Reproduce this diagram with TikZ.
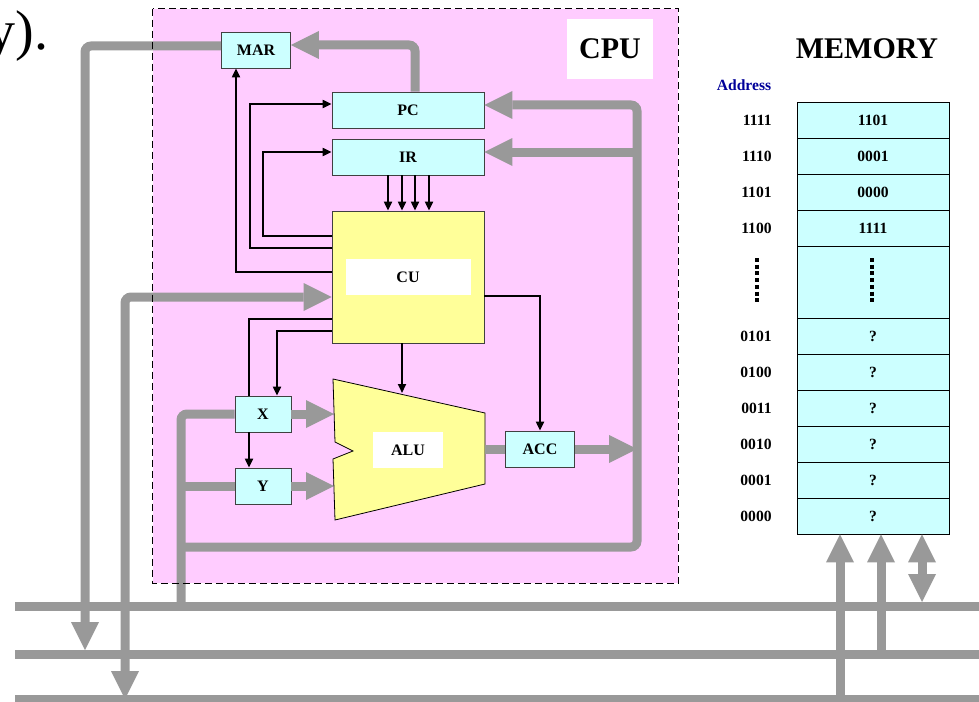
\documentclass[tikz,border=0pt]{standalone}
\usepackage{fontspec}
\setmainfont{Liberation Serif}
\usepackage{tikz}
\usetikzlibrary{arrows.meta,positioning,calc}
\definecolor{Pink}{HTML}{FFCCFF}
\definecolor{Cyan}{HTML}{CCFFFF}
\definecolor{Yellow}{HTML}{FFFF99}
\definecolor{Gray}{HTML}{999999}
\definecolor{Navy}{HTML}{000099}

\begin{document}
\begin{tikzpicture}[x=0.5pt,y=-0.5pt,
reg/.style={draw=black!75,fill=Cyan,minimum height=18pt,inner sep=0pt,font=\bfseries\fontsize{8}{9}\selectfont},
lab/.style={fill=white,minimum height=18pt,inner sep=0pt,font=\bfseries\fontsize{8}{9}\selectfont},
cell/.style={draw=black,fill=Cyan,minimum width=76pt,minimum height=18pt,inner sep=0pt,font=\bfseries\fontsize{7.8}{9}\selectfont},
adr/.style={anchor=east,inner sep=0pt,font=\bfseries\fontsize{7.8}{9}\selectfont},
bus/.style={draw=Gray,line width=4.5pt,rounded corners=3pt},
busa/.style={bus,-{Triangle[length=14pt,width=14pt,line width=0pt]}},
busaa/.style={bus,{Triangle[length=14pt,width=14pt,line width=0pt]}-{Triangle[length=14pt,width=14pt,line width=0pt]}},
ctl/.style={draw=black,line width=1pt,-{Triangle[length=4.5pt,width=4pt]}},
wire/.style={draw=black,line width=1pt},
dotcol/.style={line width=2pt,dash pattern=on 2pt off 1.35pt}]
\useasboundingbox (0,0) rectangle (979,701);
% cpu area
\node[fill=Pink,minimum width=262.5pt,minimum height=287pt,inner sep=0pt] (cpu) at (415.5,296) {};
\node[fill=white,minimum width=43pt,minimum height=30pt,inner sep=0pt,font=\bfseries\fontsize{15}{18}\selectfont] (cpulab) at (610,49) {CPU};
\node[anchor=base east,inner sep=0pt,font=\fontsize{28}{30}\selectfont] (tail) at (49,50) {y).};
% registers
\node[reg,minimum width=34.5pt] (mar) at (256,50) {MAR};
\node[reg,minimum width=76pt] (pc) at (408,110) {PC};
\node[reg,minimum width=76pt] (ir) at (408,157) {IR};
\node[draw=black!75,fill=Yellow,minimum width=76pt,minimum height=66pt] (cu) at (408,277) {};
\node[lab,minimum width=62.5pt] (culab) at (408,277) {CU};
\node[reg,minimum width=28pt] (rx) at (263,414) {X};
\node[reg,minimum width=28pt] (ry) at (263,486) {Y};
\node[reg,minimum width=34.5pt] (acc) at (540,449) {ACC};
% alu
\draw[fill=Yellow] (333,379) -- (485,413) -- (485,484) -- (335,520) -- (333,459) -- (353,451) -- (335,442) -- cycle;
\node[lab,minimum width=35pt] (alu) at (408,450) {ALU};
\coordinate (alul) at (334,450);
\coordinate (alur) at (485,449);
\coordinate (alut) at (402,393);
% memory
\node[font=\bfseries\fontsize{15}{18}\selectfont] (memlab) at (867,49) {MEMORY};
\node[font=\bfseries\fontsize{7.8}{9}\selectfont,text=Navy] (adrlab) at (744,85) {Address};
\foreach \a/\v [count=\i] in {1111/1101,1110/0001,1101/0000,1100/1111}{
  \node[cell] (m\i) at (873,{84+36*\i}) {\v};
  \node[adr] (a\i) at (772,{84+36*\i}) {\a};
}
\node[cell,minimum height=36pt] (mdots) at (873,282) {};
\foreach \a [count=\i from 5] in {0101,0100,0011,0010,0001,0000}{
  \node[cell] (m\i) at (873,{156+36*\i}) {?};
  \node[adr] (a\i) at (772,{156+36*\i}) {\a};
}
\draw[dotcol] (757,258) -- (757,303);
\draw[dotcol] (872,258) -- (872,303);
% buses
\coordinate (b1w) at (15,606); \coordinate (b1e) at (979,606);
\coordinate (b2w) at (15,654); \coordinate (b2e) at (979,654);
\coordinate (b3w) at (15,699); \coordinate (b3e) at (979,699);
\draw[bus] (b1w) -- (b1e);
\draw[bus] (b2w) -- (b2e);
\draw[bus] (b3w) -- (b3e);
% data paths
\draw[busa,shorten >=2pt] ([yshift=2pt]mar.west) -| (85,0 |- b2w);
\draw[busa] ([xshift=3.5pt]pc.north) |- ([yshift=2.5pt]mar.east);
\draw[busaa] ([yshift=-10pt]cu.west) -| (125,0 |- b3w);
\draw[bus] (181,0 |- b1w) |- (rx.west);
\draw[bus] (181,0 |- ry.west) -- (ry.west);
\coordinate (lp) at (181,547);
\coordinate (rp) at (637,547);
\draw[busa] (lp) -- (rp) |- ([yshift=2.5pt]pc.east);
\draw[busa] ([yshift=2.5pt]ir.east -| rp) -- ([yshift=2.5pt]ir.east);
\draw[busa] (acc.east) -- (acc.east -| rp);
\draw[bus] (alur) -- (acc.west);
\draw[busa] (rx.east) -- (rx.east -| alul);
\draw[busa] (ry.east) -- (ry.east -| alul);
\draw[busa] (840,701) -- (840,0 |- m10.south);
\draw[busa] (881,0 |- b2w) -- (881,0 |- m10.south);
\draw[busaa,shorten >=2pt] (922,0 |- m10.south) -- (922,0 |- b1w);
% control lines
\foreach \d in {-10,-3,3.5,10.5}
  \draw[ctl] ([xshift=\d pt]ir.south) -- ([xshift=\d pt]ir.south |- cu.north);
\draw[ctl] ([yshift=2.5pt]cu.west) -| ([xshift=-10pt]mar.south);
\draw[ctl] ([yshift=14.5pt]cu.west) -- ++(-41pt,0) |- ([yshift=3pt]pc.west);
\draw[ctl] ([yshift=20.5pt]cu.west) -- ++(-34.5pt,0) |- ([yshift=2.5pt]ir.west);
\draw[wire] ([yshift=-21pt]cu.west) -| ([xshift=-7pt]rx.north);
\draw[ctl] ([xshift=-7pt]rx.south) -- ([xshift=-7pt]ry.north);
\draw[ctl] ([yshift=-27pt]cu.west) -| ([xshift=7pt]rx.north);
\draw[ctl] ([xshift=-3pt]cu.south) -- (alut);
\draw[ctl] ([yshift=-9.5pt]cu.east) -| (acc.north);
\draw[line width=0.8pt,dash pattern=on 3.5pt off 2pt] (cpu.north west) rectangle (cpu.south east);
\end{tikzpicture}
\end{document}
